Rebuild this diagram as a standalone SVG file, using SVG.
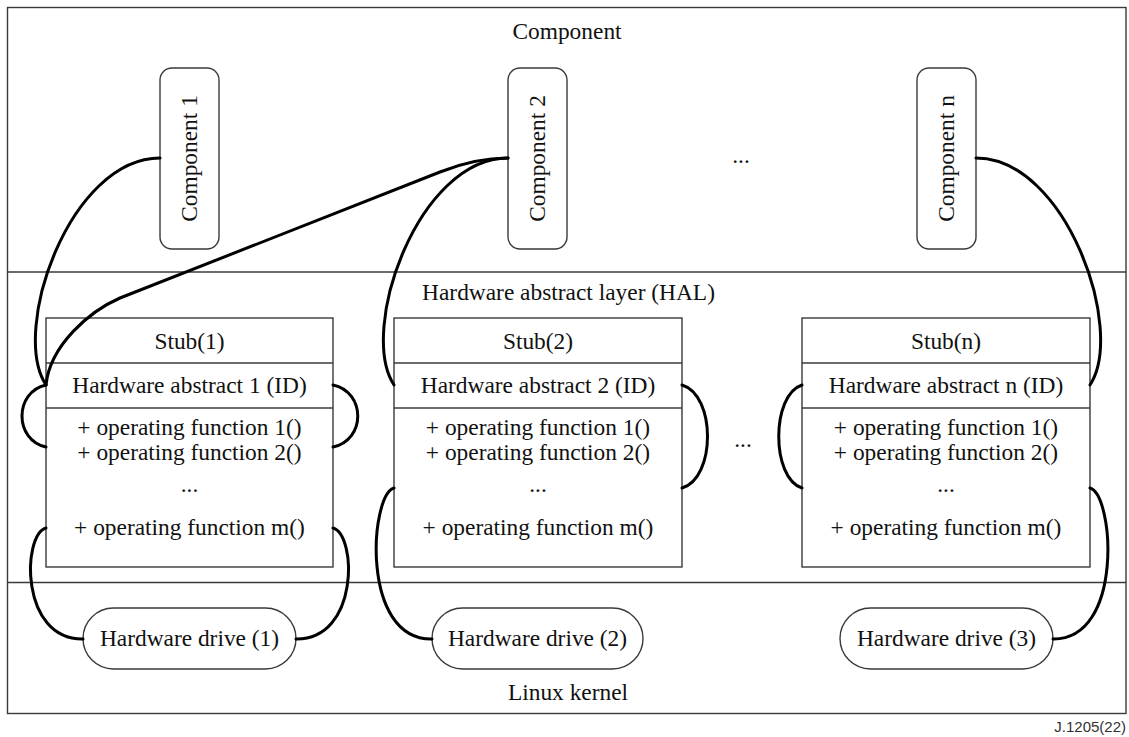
<svg xmlns="http://www.w3.org/2000/svg" width="1129" height="737" viewBox="0 0 1129 737">
  <style>
    .frame { fill: none; stroke: #3a3a3a; stroke-width: 1.4; }
    .box { fill: #ffffff; stroke: #3a3a3a; stroke-width: 1.4; }
    .sep { stroke: #3a3a3a; stroke-width: 1.4; }
    .t { font-family: "Liberation Serif", "Times New Roman", serif; font-size: 23.4px; fill: #111111; text-anchor: middle; }
    .ref { font-family: "Liberation Sans", Arial, sans-serif; font-size: 15px; fill: #333333; text-anchor: end; }
    .link { fill: none; stroke: #000000; stroke-width: 3; stroke-linecap: round; }
  </style>

  <!-- layer frame and layer separators -->
  <g id="layers">
    <rect class="frame" x="7.5" y="7.5" width="1118.5" height="706"/>
    <line class="sep" x1="7.5" y1="272" x2="1126" y2="272"/>
    <line class="sep" x1="7.5" y1="582.5" x2="1126" y2="582.5"/>
    <text class="t" x="567" y="39">Component</text>
    <text class="t" x="568.5" y="300">Hardware abstract layer (HAL)</text>
    <text class="t" x="568" y="700">Linux kernel</text>
    <text class="t" x="741" y="163">...</text>
    <text class="t" x="743" y="447">...</text>
  </g>

  <!-- components -->
  <g id="component-1">
    <rect class="box" x="160" y="68" width="59" height="181" rx="12"/>
    <text class="t" transform="translate(189.5,158.5) rotate(-90)" y="7.8">Component 1</text>
  </g>
  <g id="component-2">
    <rect class="box" x="508" y="68" width="59" height="181" rx="12"/>
    <text class="t" transform="translate(537.5,158.5) rotate(-90)" y="7.8">Component 2</text>
  </g>
  <g id="component-n">
    <rect class="box" x="917" y="68" width="59" height="181" rx="12"/>
    <text class="t" transform="translate(946.5,158.5) rotate(-90)" y="7.8">Component n</text>
  </g>

  <!-- stubs -->
  <g id="stub-1">
    <rect class="box" x="46" y="318" width="287" height="249"/>
    <line class="sep" x1="46" y1="363" x2="333" y2="363"/>
    <line class="sep" x1="46" y1="408" x2="333" y2="408"/>
    <text class="t" x="189.5" y="349">Stub(1)</text>
    <text class="t" x="189.5" y="393">Hardware abstract 1 (ID)</text>
    <text class="t" x="189.5" y="435">+ operating function 1()</text>
    <text class="t" x="189.5" y="460">+ operating function 2()</text>
    <text class="t" x="189.5" y="492">...</text>
    <text class="t" x="189.5" y="535">+ operating function m()</text>
  </g>
  <g id="stub-2">
    <rect class="box" x="394" y="318" width="288" height="249"/>
    <line class="sep" x1="394" y1="363" x2="682" y2="363"/>
    <line class="sep" x1="394" y1="408" x2="682" y2="408"/>
    <text class="t" x="538" y="349">Stub(2)</text>
    <text class="t" x="538" y="393">Hardware abstract 2 (ID)</text>
    <text class="t" x="538" y="435">+ operating function 1()</text>
    <text class="t" x="538" y="460">+ operating function 2()</text>
    <text class="t" x="538" y="492">...</text>
    <text class="t" x="538" y="535">+ operating function m()</text>
  </g>
  <g id="stub-n">
    <rect class="box" x="802" y="318" width="288" height="249"/>
    <line class="sep" x1="802" y1="363" x2="1090" y2="363"/>
    <line class="sep" x1="802" y1="408" x2="1090" y2="408"/>
    <text class="t" x="946" y="349">Stub(n)</text>
    <text class="t" x="946" y="393">Hardware abstract n (ID)</text>
    <text class="t" x="946" y="435">+ operating function 1()</text>
    <text class="t" x="946" y="460">+ operating function 2()</text>
    <text class="t" x="946" y="492">...</text>
    <text class="t" x="946" y="535">+ operating function m()</text>
  </g>

  <!-- hardware drives -->
  <g id="drive-1">
    <rect class="box" x="83" y="608" width="213" height="61" rx="30.5"/>
    <text class="t" x="189.5" y="646">Hardware drive (1)</text>
  </g>
  <g id="drive-2">
    <rect class="box" x="432" y="608" width="211" height="61" rx="30.5"/>
    <text class="t" x="537.5" y="646">Hardware drive (2)</text>
  </g>
  <g id="drive-3">
    <rect class="box" x="840" y="608" width="213" height="61" rx="30.5"/>
    <text class="t" x="946.5" y="646">Hardware drive (3)</text>
  </g>

  <!-- connectors, drawn over the boxes -->
  <g id="connectors">
    <!-- components to hardware abstracts -->
    <path class="link" d="M160,158 C70,158 10,330 46,385"/>
    <path class="link" d="M508,158 C490,158 465,162 440,172 L120,298 C90,311 50,345 46,385"/>
    <path class="link" d="M508,158 C418,158 358,330 394,385"/>
    <path class="link" d="M976,158 C1066,158 1126,330 1090,385"/>
    <!-- hardware abstract to operating functions -->
    <path class="link" d="M46,385 C14,392 14,440 46,447"/>
    <path class="link" d="M333,385 C366,392 366,440 333,447"/>
    <path class="link" d="M682,385 C716,395 716,478 682,488"/>
    <path class="link" d="M802,385 C771,395 771,478 802,488"/>
    <!-- operating functions to hardware drives -->
    <path class="link" d="M46,528 C22,535 20,640 83,639"/>
    <path class="link" d="M333,528 C357,535 359,640 296,639"/>
    <path class="link" d="M394,488 C370,495 360,640 432,639"/>
    <path class="link" d="M1090,488 C1114,495 1124,640 1053,639"/>
  </g>

  <text class="ref" x="1126" y="732">J.1205(22)</text>
</svg>
